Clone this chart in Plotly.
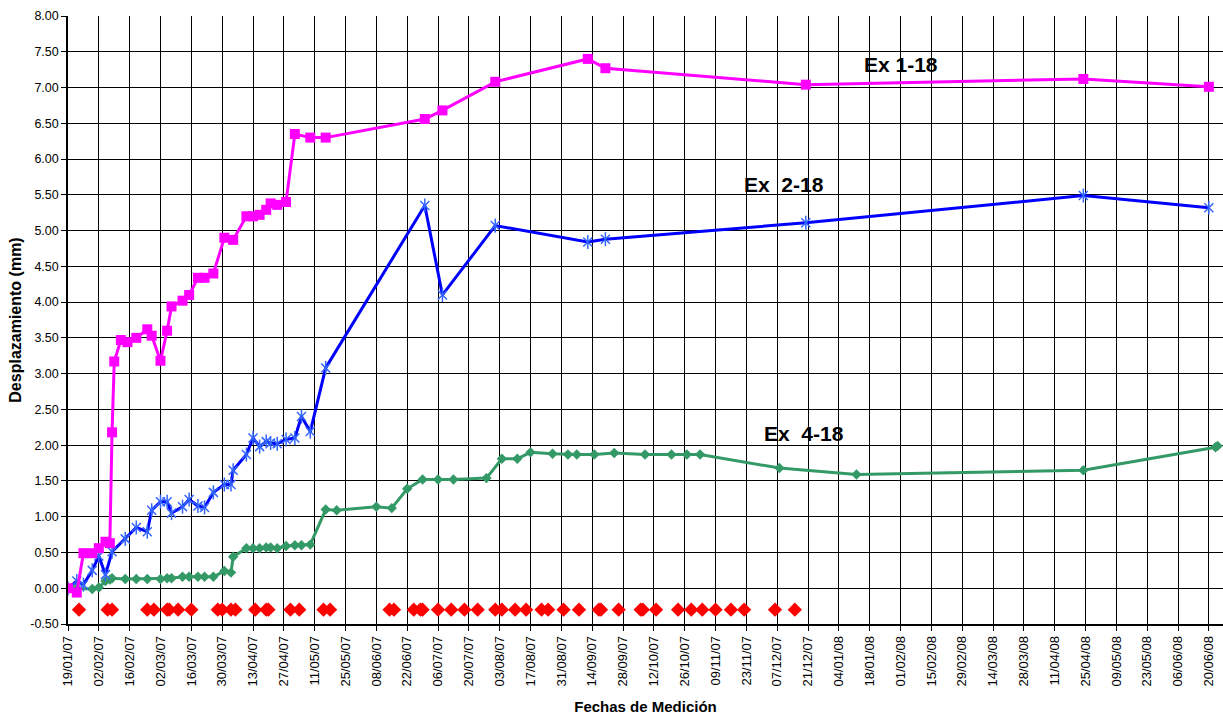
import plotly.graph_objects as go

# ---- Extensómetro Ex 1-18 ----
ex1_dates = ["2007-01-19", "2007-01-23", "2007-01-26", "2007-01-30", "2007-02-02", "2007-02-05",
             "2007-02-07", "2007-02-08", "2007-02-09", "2007-02-12", "2007-02-15", "2007-02-19",
             "2007-02-24", "2007-02-26", "2007-03-02", "2007-03-05", "2007-03-07", "2007-03-12",
             "2007-03-15", "2007-03-19", "2007-03-22", "2007-03-26", "2007-03-31", "2007-04-04",
             "2007-04-10", "2007-04-13", "2007-04-16", "2007-04-19", "2007-04-21", "2007-04-24",
             "2007-04-28", "2007-05-02", "2007-05-09", "2007-05-16", "2007-06-30", "2007-07-08",
             "2007-08-01", "2007-09-12", "2007-09-20", "2007-12-20", "2008-04-24", "2008-06-20"]
ex1_vals = [0.00, -0.06, 0.49, 0.49, 0.56, 0.65, 0.63, 2.18, 3.17, 3.47, 3.44, 3.50,
            3.62, 3.53, 3.18, 3.60, 3.94, 4.02, 4.10, 4.34, 4.34, 4.40, 4.90, 4.87,
            5.20, 5.20, 5.22, 5.29, 5.38, 5.36, 5.40, 6.35, 6.30, 6.30, 6.56, 6.68,
            7.08, 7.40, 7.27, 7.04, 7.12, 7.01]

# ---- Extensómetro Ex 2-18 ----
ex2_dates = ["2007-01-19", "2007-01-23", "2007-01-26", "2007-01-30", "2007-02-02", "2007-02-05",
             "2007-02-08", "2007-02-14", "2007-02-19", "2007-02-24", "2007-02-26", "2007-03-02",
             "2007-03-05", "2007-03-07", "2007-03-12", "2007-03-15", "2007-03-19", "2007-03-22",
             "2007-03-26", "2007-03-31", "2007-04-03", "2007-04-04", "2007-04-10", "2007-04-13",
             "2007-04-16", "2007-04-19", "2007-04-21", "2007-04-24", "2007-04-28", "2007-05-02",
             "2007-05-05", "2007-05-09", "2007-05-16", "2007-06-30", "2007-07-08", "2007-08-01",
             "2007-09-12", "2007-09-20", "2007-12-20", "2008-04-24", "2008-06-20"]
ex2_vals = [0.00, 0.10, 0.05, 0.25, 0.45, 0.19, 0.51, 0.69, 0.85, 0.79, 1.09, 1.21,
            1.21, 1.05, 1.14, 1.24, 1.15, 1.13, 1.34, 1.45, 1.45, 1.65, 1.87, 2.10,
            1.98, 2.05, 2.03, 2.02, 2.08, 2.10, 2.40, 2.19, 3.08, 5.35, 4.10, 5.07,
            4.84, 4.88, 5.11, 5.49, 5.32]

# ---- Extensómetro Ex 4-18 ----
ex4_dates = ["2007-01-19", "2007-01-23", "2007-01-30", "2007-02-02", "2007-02-05", "2007-02-07",
             "2007-02-08", "2007-02-14", "2007-02-19", "2007-02-24", "2007-03-02", "2007-03-05",
             "2007-03-07", "2007-03-12", "2007-03-15", "2007-03-19", "2007-03-22", "2007-03-26",
             "2007-03-31", "2007-04-03", "2007-04-04", "2007-04-10", "2007-04-13", "2007-04-16",
             "2007-04-19", "2007-04-21", "2007-04-24", "2007-04-28", "2007-05-02", "2007-05-05",
             "2007-05-09", "2007-05-16", "2007-05-21", "2007-06-08", "2007-06-15", "2007-06-22",
             "2007-06-29", "2007-07-06", "2007-07-13", "2007-07-28", "2007-08-04", "2007-08-11",
             "2007-08-17", "2007-08-27", "2007-09-03", "2007-09-07", "2007-09-15", "2007-09-24",
             "2007-10-08", "2007-10-20", "2007-10-27", "2007-11-02", "2007-12-08", "2008-01-12",
             "2008-04-24", "2008-06-23", "2008-06-24"]
ex4_vals = [0.00, 0.00, -0.01, 0.01, 0.10, 0.12, 0.14, 0.13, 0.13, 0.13, 0.13, 0.14,
            0.14, 0.16, 0.16, 0.16, 0.16, 0.16, 0.24, 0.22, 0.44, 0.56, 0.56, 0.56,
            0.57, 0.57, 0.56, 0.59, 0.60, 0.60, 0.61, 1.10, 1.09, 1.14, 1.12, 1.39,
            1.52, 1.52, 1.52, 1.54, 1.81, 1.81, 1.90, 1.88, 1.87, 1.87, 1.87, 1.89,
            1.87, 1.87, 1.87, 1.87, 1.68, 1.59, 1.65, 1.97, 1.99]

# ---- Fechas de eventos (marcadores rojos) ----
event_dates = ["2007-01-24", "2007-02-06", "2007-02-08", "2007-02-24", "2007-02-27", "2007-03-05",
               "2007-03-06", "2007-03-10", "2007-03-16", "2007-03-28", "2007-03-30", "2007-04-03",
               "2007-04-05", "2007-04-14", "2007-04-19", "2007-04-20", "2007-04-30", "2007-05-04",
               "2007-05-15", "2007-05-18", "2007-06-14", "2007-06-16", "2007-06-25", "2007-06-28",
               "2007-06-29", "2007-07-06", "2007-07-12", "2007-07-18", "2007-07-24", "2007-08-01",
               "2007-08-04", "2007-08-10", "2007-08-15", "2007-08-22", "2007-08-25", "2007-09-01",
               "2007-09-08", "2007-09-17", "2007-09-18", "2007-09-26", "2007-10-06", "2007-10-07",
               "2007-10-13", "2007-10-23", "2007-10-29", "2007-11-03", "2007-11-09", "2007-11-16",
               "2007-11-22", "2007-12-06", "2007-12-15"]
event_level = -0.30

# ---- Ejes ----
y_ticks = [-0.5 + 0.5 * i for i in range(18)]
y_ticktext = [f"{v:.2f}" for v in y_ticks]
x_start = "2007-01-19"
x_end = "2008-06-26 10:00"
two_weeks_ms = 14 * 24 * 3600 * 1000

FONT = "Liberation Sans, Arial, sans-serif"

fig = go.Figure()

fig.add_trace(go.Scatter(
    x=event_dates, y=[event_level] * len(event_dates), mode="markers",
    marker=dict(symbol="diamond", size=11, color="#FF0000", line=dict(width=0)),
    name="Eventos", showlegend=False))

fig.add_trace(go.Scatter(
    x=ex4_dates, y=ex4_vals, mode="lines+markers",
    line=dict(color="#339966", width=3),
    marker=dict(symbol="diamond", size=8, color="#339966"),
    name="Ex 4-18", showlegend=False))

fig.add_trace(go.Scatter(
    x=ex2_dates, y=ex2_vals, mode="lines+markers",
    line=dict(color="#0000FF", width=3),
    marker=dict(symbol="x-thin-open", size=9, color="#3366FF",
                line=dict(color="#3366FF", width=1.5)),
    name="Ex 2-18", showlegend=False))
# vertical stroke completing the star marker
fig.add_trace(go.Scatter(
    x=ex2_dates, y=ex2_vals, mode="markers",
    marker=dict(symbol="line-ns-open", size=10, color="#3366FF",
                line=dict(color="#3366FF", width=1.5)),
    showlegend=False, hoverinfo="skip"))

fig.add_trace(go.Scatter(
    x=ex1_dates, y=ex1_vals, mode="lines+markers",
    line=dict(color="#FF00FF", width=3),
    marker=dict(symbol="square", size=10, color="#FF00FF"),
    name="Ex 1-18", showlegend=False))

label_font = dict(family=FONT, size=21, color="#000000")
fig.add_annotation(x="2008-02-01", y=7.32, text="<b>Ex 1-18</b>", showarrow=False, font=label_font)
fig.add_annotation(x="2007-12-10", y=5.65, text="<b>Ex  2-18</b>", showarrow=False, font=label_font)
fig.add_annotation(x="2007-12-19", y=2.17, text="<b>Ex  4-18</b>", showarrow=False, font=label_font)

fig.update_layout(
    width=1223, height=717,
    margin=dict(l=68, r=0, t=16, b=93),
    paper_bgcolor="white", plot_bgcolor="white",
    font=dict(family=FONT, color="#000000"),
    showlegend=False,
    xaxis=dict(
        type="date", range=[x_start, x_end],
        tick0=x_start, dtick=two_weeks_ms, tickformat="%d/%m/%y", tickangle=-90,
        tickfont=dict(size=13), ticks="outside", ticklen=5, tickcolor="#000000",
        showgrid=True, gridcolor="#000000", gridwidth=1,
        showline=True, linecolor="#000000", linewidth=1.5, zeroline=False,
        title=dict(text="<b>Fechas de Medición</b>", font=dict(size=15), standoff=16),
    ),
    yaxis=dict(
        range=[-0.5, 8.0], tickmode="array", tickvals=y_ticks, ticktext=y_ticktext,
        tickfont=dict(size=12.5), ticks="outside", ticklen=5, tickcolor="#000000",
        showgrid=True, gridcolor="#000000", gridwidth=1,
        showline=True, linecolor="#000000", linewidth=1.5, zeroline=False,
        title=dict(text="<b>Desplazamiento (mm)</b>", font=dict(size=16), standoff=5),
    ),
)

fig.write_html("out.html")
